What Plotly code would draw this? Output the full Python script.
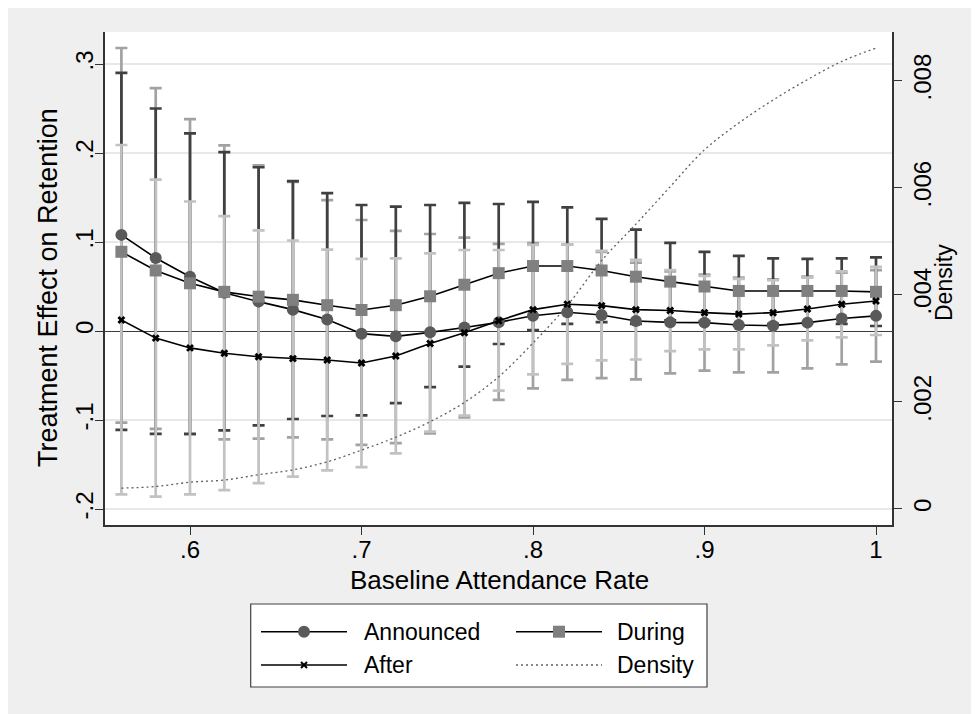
import plotly.graph_objects as go

# ---------------- data ----------------
attendance = [0.56, 0.58, 0.60, 0.62, 0.64, 0.66, 0.68, 0.70, 0.72, 0.74, 0.76, 0.78,
              0.80, 0.82, 0.84, 0.86, 0.88, 0.90, 0.92, 0.94, 0.96, 0.98, 1.00]

announced = [0.108, 0.082, 0.061, 0.043, 0.033, 0.024, 0.013, -0.003, -0.006, -0.0015, 0.004, 0.0097,
             0.0172, 0.021, 0.018, 0.0112, 0.0097, 0.0094, 0.0067, 0.006, 0.0094, 0.014, 0.017]
announced_hi = [0.318, 0.273, 0.238, 0.2086, 0.186, 0.1675, 0.147, 0.1247, 0.1124, 0.109, 0.105, 0.0978,
                0.0988, 0.097, 0.089, 0.0767, 0.067, 0.0634, 0.060, 0.058, 0.061, 0.0655, 0.0685]
announced_lo = [-0.103, -0.110, -0.116, -0.1217, -0.121, -0.1195, -0.1217, -0.128, -0.126, -0.115, -0.097, -0.0775,
                -0.0644, -0.055, -0.053, -0.0543, -0.0476, -0.0446, -0.0464, -0.0464, -0.042, -0.0375, -0.0345]

during = [0.089, 0.068, 0.0536, 0.044, 0.0386, 0.035, 0.029, 0.0236, 0.029, 0.039, 0.052, 0.065,
          0.073, 0.073, 0.068, 0.061, 0.0555, 0.050, 0.045, 0.045, 0.045, 0.045, 0.044]
during_hi = [0.290, 0.250, 0.222, 0.201, 0.184, 0.1685, 0.155, 0.1416, 0.1397, 0.1416, 0.144, 0.1427,
             0.145, 0.139, 0.126, 0.114, 0.099, 0.0888, 0.0843, 0.0817, 0.081, 0.0817, 0.0828]
during_lo = [-0.111, -0.1157, -0.1157, -0.1116, -0.106, -0.0989, -0.0955, -0.0948, -0.081, -0.063, -0.040, -0.0146,
             0.001, 0.0079, 0.0100, 0.008, 0.012, 0.011, 0.006, 0.008, 0.009, 0.008, 0.0056]

after = [0.0124, -0.008, -0.019, -0.025, -0.029, -0.031, -0.0326, -0.036, -0.028, -0.014, -0.002, 0.0116,
         0.024, 0.030, 0.0285, 0.024, 0.023, 0.0206, 0.019, 0.0206, 0.0247, 0.030, 0.0337]
after_hi = [0.209, 0.170, 0.1455, 0.129, 0.113, 0.1017, 0.0914, 0.081, 0.0817, 0.0873, 0.091, 0.091,
            0.0967, 0.097, 0.090, 0.080, 0.0685, 0.0618, 0.0586, 0.057, 0.060, 0.067, 0.072]
after_lo = [-0.1835, -0.186, -0.1835, -0.1787, -0.171, -0.1637, -0.1566, -0.153, -0.1375, -0.113, -0.095, -0.067,
            -0.0487, -0.037, -0.033, -0.032, -0.0225, -0.0206, -0.0206, -0.0161, -0.0105, -0.0071, -0.0045]

density = [0.00039, 0.00042, 0.00050, 0.00054, 0.00064, 0.00073, 0.00088, 0.00110, 0.00134, 0.00163, 0.00199, 0.00247,
           0.00310, 0.00380, 0.00464, 0.00532, 0.00602, 0.00671, 0.00721, 0.00764, 0.00802, 0.00836, 0.00861]

x_ticks = [0.6, 0.7, 0.8, 0.9, 1.0]
x_ticktext = [".6", ".7", ".8", ".9", "1"]
y_ticks = [-0.2, -0.1, 0, 0.1, 0.2, 0.3]
y_ticktext = ["-.2", "-.1", "0", ".1", ".2", ".3"]
y2_ticks = [0, 0.002, 0.004, 0.006, 0.008]
y2_ticktext = ["0", ".002", ".004", ".006", ".008"]

FONT = "Liberation Sans"
FS_TICK = 24
FS_TITLE = 26
FS_LEG = 23

fig = go.Figure()


def ci_trace(y, hi, lo, color):
    return go.Scatter(
        x=attendance, y=y, mode="markers",
        marker=dict(size=1, opacity=0),
        error_y=dict(type="data", symmetric=False,
                     array=[h - v for h, v in zip(hi, y)],
                     arrayminus=[v - l for l, v in zip(lo, y)],
                     color=color, thickness=2.7, width=6),
        hoverinfo="skip", showlegend=False)


# confidence intervals (drawn first)
fig.add_trace(ci_trace(announced, announced_hi, announced_lo, "#a2a2a2"))
fig.add_trace(ci_trace(during, during_hi, during_lo, "#404040"))
fig.add_trace(ci_trace(after, after_hi, after_lo, "#c2c2c2"))

# point estimates
fig.add_trace(go.Scatter(x=attendance, y=announced, mode="lines+markers", name="Announced",
                         line=dict(color="black", width=1.6),
                         marker=dict(symbol="circle", size=12, color="#5a5a5a"), showlegend=False))
fig.add_trace(go.Scatter(x=attendance, y=during, mode="lines+markers", name="During",
                         line=dict(color="black", width=1.6),
                         marker=dict(symbol="square", size=12, color="#808080"), showlegend=False))
fig.add_trace(go.Scatter(x=attendance, y=after, mode="lines+markers", name="After",
                         line=dict(color="black", width=1.6),
                         marker=dict(symbol="x", size=7, color="black"), showlegend=False))

# density on right axis
fig.add_trace(go.Scatter(x=attendance, y=density, mode="lines", name="Density", yaxis="y2",
                         line=dict(color="#606060", width=1.3, dash="2px,3px", shape="spline"),
                         showlegend=False))

# ---------------- layout ----------------
# page body has an 8px margin, so screen coords = figure coords + 8
OFF = 8
W, H = 979, 714
L, R, T, B = 105 - OFF, W - (892 - OFF), 32 - OFF, H - (525 - OFF)
PW, PH = W - L - R, H - T - B


def px(xs):
    return (xs - OFF - L) / PW


def py(ys):
    return (H - B - (ys - OFF)) / PH


axis_common = dict(showline=True, linecolor="#333333", linewidth=1.6, ticks="outside",
                   ticklen=8, tickwidth=1.4, tickcolor="#333333",
                   tickfont=dict(family=FONT, size=FS_TICK, color="black"))

fig.update_layout(
    width=W, height=H,
    margin=dict(l=L, r=R, t=T, b=B),
    paper_bgcolor="#efefef", plot_bgcolor="white",
    xaxis=dict(range=[0.55044, 1.00933], tickvals=x_ticks, ticktext=x_ticktext,
               ticklabelstandoff=-6,
               showgrid=False, zeroline=False, mirror=False, **axis_common),
    yaxis=dict(range=[-0.21798, 0.33596], tickvals=y_ticks, ticktext=y_ticktext, tickangle=-90,
               ticklabelstandoff=-7,
               showgrid=True, gridcolor="#e8e8e8", gridwidth=1.8,
               zeroline=True, zerolinecolor="#3c3c3c", zerolinewidth=1.4, **axis_common),
    yaxis2=dict(range=[-0.000299, 0.0089098], tickvals=y2_ticks, ticktext=y2_ticktext, tickangle=-90,
                overlaying="y", side="right", showgrid=False, zeroline=False, **axis_common),
    hovermode=False,
)

shapes = []
# legend box
shapes.append(dict(type="rect", xref="paper", yref="paper", x0=px(250.7), x1=px(707), y0=py(687), y1=py(604),
                   fillcolor="white", line=dict(color="#404040", width=1.2)))
row1, row2 = py(631.7), py(665)
c1a, c1b, c1m = px(261), px(347), px(304)
c2a, c2b, c2m = px(516), px(602), px(559)
shapes.append(dict(type="line", xref="paper", yref="paper", x0=c1a, x1=c1b, y0=row1, y1=row1,
                   line=dict(color="black", width=1.6)))
shapes.append(dict(type="line", xref="paper", yref="paper", x0=c2a, x1=c2b, y0=row1, y1=row1,
                   line=dict(color="black", width=1.6)))
shapes.append(dict(type="line", xref="paper", yref="paper", x0=c1a, x1=c1b, y0=row2, y1=row2,
                   line=dict(color="black", width=1.6)))
shapes.append(dict(type="line", xref="paper", yref="paper", x0=c2a, x1=c2b, y0=row2, y1=row2,
                   line=dict(color="#606060", width=1.3, dash="2px,3px")))
shapes.append(dict(type="circle", xref="paper", yref="paper", xsizemode="pixel", ysizemode="pixel",
                   xanchor=c1m, yanchor=row1, x0=-6, x1=6, y0=-6, y1=6,
                   fillcolor="#5a5a5a", line=dict(width=0)))
shapes.append(dict(type="rect", xref="paper", yref="paper", xsizemode="pixel", ysizemode="pixel",
                   xanchor=c2m, yanchor=row1, x0=-6, x1=6, y0=-6, y1=6,
                   fillcolor="#808080", line=dict(width=0)))
for sgn in (1, -1):
    shapes.append(dict(type="line", xref="paper", yref="paper", xsizemode="pixel", ysizemode="pixel",
                       xanchor=c1m, yanchor=row2, x0=-3, x1=3, y0=-3 * sgn, y1=3 * sgn,
                       line=dict(color="black", width=2)))

fig.update_layout(shapes=shapes)

ann = []
ann.append(dict(text="Treatment Effect on Retention", xref="paper", yref="paper", x=px(48), y=py(288),
                showarrow=False, textangle=-90, font=dict(family=FONT, size=27, color="black"),
                xanchor="center", yanchor="middle"))
ann.append(dict(text="Density", xref="paper", yref="paper", x=px(944), y=py(283),
                showarrow=False, textangle=-90, font=dict(family=FONT, size=FS_LEG, color="black"),
                xanchor="center", yanchor="middle"))
ann.append(dict(text="Baseline Attendance Rate", xref="paper", yref="paper", x=px(499), y=py(580),
                showarrow=False, font=dict(family=FONT, size=FS_TITLE, color="black"),
                xanchor="center", yanchor="middle"))
for label, xp, yp in [("Announced", 362, 631.7), ("During", 615, 631.7),
                      ("After", 362, 665), ("Density", 615, 665)]:
    ann.append(dict(text=label, xref="paper", yref="paper", x=px(xp), y=py(yp), showarrow=False,
                    font=dict(family=FONT, size=FS_LEG, color="black"), xanchor="left", yanchor="middle"))
fig.update_layout(annotations=ann)

fig.write_html("out.html")
